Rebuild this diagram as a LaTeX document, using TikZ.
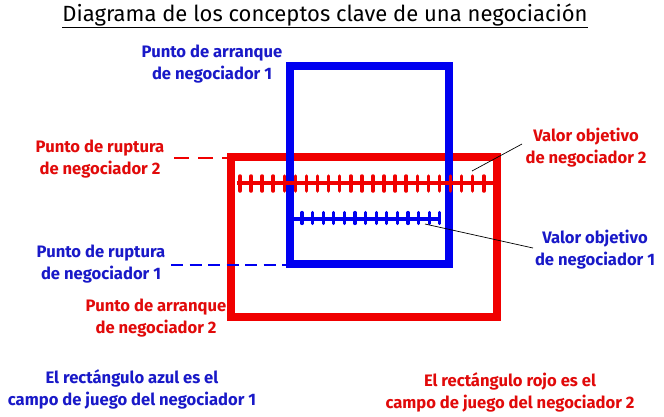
\documentclass[tikz,border=0pt]{standalone}
\usepackage{fontspec}
\setmainfont{Fira Sans}
\definecolor{rectblue}{RGB}{0,0,240}
\definecolor{rectred}{RGB}{240,0,0}
\definecolor{txtblue}{RGB}{25,25,200}
\definecolor{txtred}{RGB}{225,10,10}
\begin{document}
\begin{tikzpicture}[x=1pt,y=-1pt,
  lbl/.style={align=center,font=\bfseries\fontsize{16.6}{22}\selectfont,inner sep=0pt},
  bluetxt/.style={lbl,text=txtblue},
  redtxt/.style={lbl,text=txtred},
  leader/.style={draw=black,line width=0.7pt},
]
\useasboundingbox[fill=white] (0,0) rectangle (664,416);
% title
\node[inner sep=0pt,font=\fontsize{22}{24}\selectfont] (title) at (325,16) {\underline{Diagrama de los conceptos clave de una negociación}};
% red rectangle
\draw[rectred,line width=8.5pt] (231,157) rectangle (497,317);
% blue rectangle
\draw[rectblue,line width=8pt] (290,66) rectangle (449,264);
% red hatched line
\draw[rectred,line width=3.2pt] (237,183) -- (497,183);
\foreach \i in {0,...,23} {
  \draw[rectred,line width=3.5pt,line cap=round] ({240+11.08*\i},176) -- ({240+11.08*\i},191);
}
% blue hatched line
\draw[rectblue,line width=3.2pt] (290,219) -- (441,219);
\foreach \i in {0,...,13} {
  \draw[rectblue,line width=3.2pt,line cap=round] ({302+10.6*\i},212.5) -- ({302+10.6*\i},223.5);
}
% dashed lines
\draw[rectred,line width=2.5pt,dash pattern=on 15pt off 9pt] (174,158) -- (227,158);
\draw[rectblue,line width=2.5pt,dash pattern=on 12pt off 6.5pt] (171,265) -- (286,265);
% labels
\node[bluetxt] (pab1) at (212,64) {Punto de arranque\\de negociador 1};
\node[redtxt] (pr2) at (100,159) {Punto de ruptura\\de negociador 2};
\node[redtxt] (vo2) at (586,148) {Valor objetivo\\de negociador 2};
\node[bluetxt] (pr1) at (101,264) {Punto de ruptura\\de negociador 1};
\node[bluetxt] (vo1) at (595,250) {Valor objetivo\\de negociador 1};
\node[redtxt] (pa2) at (156,318) {Punto de arranque\\de negociador 2};
\node[bluetxt] (az) at (132,389) {El rectángulo azul es el\\campo de juego del negociador 1};
\node[redtxt] (rj) at (510,392) {El rectángulo rojo es el\\campo de juego del negociador 2};
% leaders
\coordinate (t2) at (472,171);
\coordinate (e2) at (522,144);
\coordinate (t1) at (425,224);
\coordinate (e1) at (533,248);
\draw[leader] (t2) -- (e2);
\draw[leader] (t1) -- (e1);
\end{tikzpicture}
\end{document}
